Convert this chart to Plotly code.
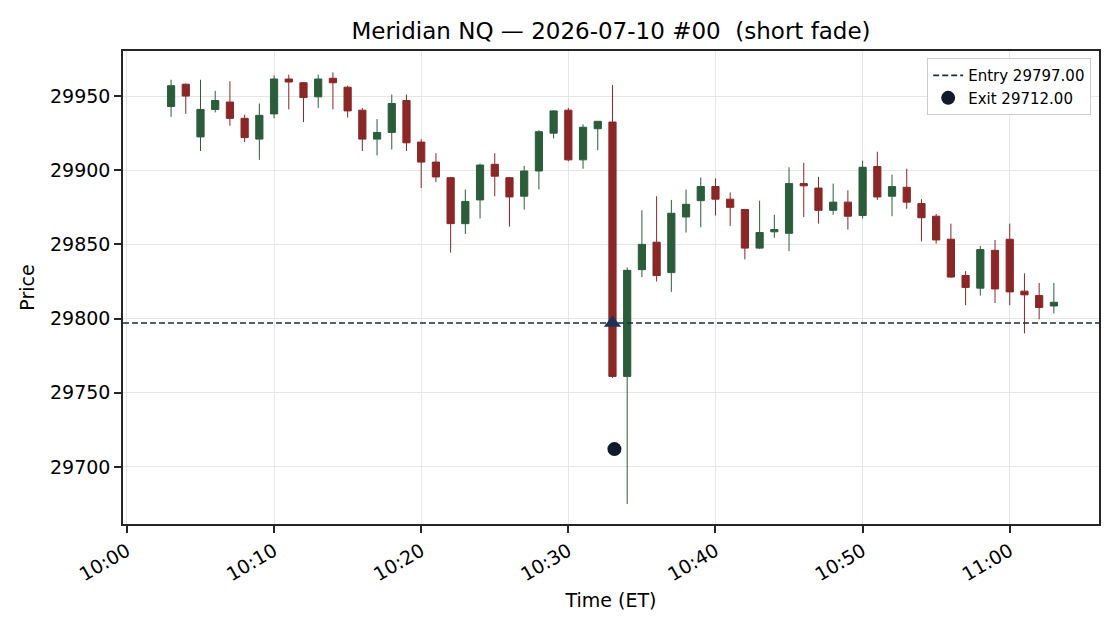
import pandas as pd
import plotly.graph_objects as go

times = pd.date_range("2026-07-10 10:03", periods=61, freq="1min")

opens = [29943, 29958, 29922.5, 29941, 29946, 29935, 29921, 29938, 29961.5, 29959,
         29949.5, 29962, 29956, 29940.5, 29921, 29925.5, 29947, 29919, 29905.5, 29895,
         29864, 29880, 29904, 29895, 29882.5, 29899.5, 29925, 29940.5, 29907, 29928,
         29932.5, 29761, 29833, 29851.5, 29831, 29868.5, 29879.5, 29889, 29880.5, 29873.5,
         29847.5, 29858.5, 29857.5, 29891, 29888, 29873, 29878.5, 29869.5, 29902.5, 29882.5,
         29888.5, 29877.5, 29869, 29853.5, 29829, 29820.5, 29846, 29853.5, 29818.5, 29815.5,
         29808.5]
highs = [29961, 29958.5, 29961, 29953.5, 29960, 29937.5, 29945, 29964, 29964.5, 29959.5,
         29964.5, 29966, 29957, 29942, 29934.5, 29951, 29951, 29921, 29911.5, 29895.5,
         29887, 29904.5, 29911.5, 29895.5, 29903, 29927, 29940.5, 29942, 29931, 29933,
         29957.5, 29834.5, 29873, 29882.5, 29880, 29887, 29895, 29894.5, 29885, 29874,
         29879.5, 29870, 29902, 29905, 29895.5, 29891, 29886.5, 29906.5, 29912.5, 29897,
         29901, 29880.5, 29870.5, 29864, 29832, 29849, 29853, 29864, 29830.5, 29824,
         29824]
lows = [29936, 29938, 29913, 29939, 29930, 29919, 29907, 29935, 29941, 29932.5,
        29942, 29941, 29935.5, 29913, 29910, 29914, 29913, 29888, 29892, 29844.5,
        29857, 29867.5, 29882.5, 29862, 29873.5, 29887, 29921.5, 29906, 29901, 29913.5,
        29760, 29675, 29828, 29825, 29818, 29858, 29861.5, 29869.5, 29862.5, 29840,
        29847, 29854.5, 29845.5, 29868.5, 29864, 29870, 29860, 29867.5, 29880, 29869,
        29874, 29852, 29850.5, 29827.5, 29809, 29815.5, 29810.5, 29809, 29790, 29799.5,
        29803.5]
closes = [29957, 29950, 29941, 29947, 29935, 29922, 29937, 29961.5, 29959.5, 29949,
          29961.5, 29959, 29940, 29921, 29925.5, 29945, 29918.5, 29905.5, 29895.5, 29864,
          29879, 29903.5, 29896, 29882, 29899.5, 29926, 29940, 29907, 29929, 29933,
          29761, 29832.5, 29850, 29829, 29871, 29877, 29889, 29880.5, 29875, 29847.5,
          29858, 29860, 29891, 29889.5, 29873, 29878.5, 29869, 29902, 29882, 29889,
          29878.5, 29868, 29853, 29828, 29821, 29846.5, 29820, 29818, 29816, 29807.5,
          29811]

entry_time = "2026-07-10 10:33:00"
entry_price = 29797.00
exit_time = "2026-07-10 10:33:08"
exit_price = 29712.00

x_start = "2026-07-10 09:59:44"
x_end = "2026-07-10 11:06:04"

yticks = [29700, 29750, 29800, 29850, 29900, 29950]

GREEN = "#2b5d3b"
RED = "#8b2727"
NAVY = "#1b2c46"

fig = go.Figure()

fig.add_trace(go.Candlestick(
    x=times, open=opens, high=highs, low=lows, close=closes,
    increasing=dict(line=dict(color=GREEN, width=1), fillcolor=GREEN),
    decreasing=dict(line=dict(color=RED, width=1), fillcolor=RED),
    showlegend=False, hoverinfo="skip",
))

fig.add_trace(go.Scatter(
    x=[x_start, x_end], y=[entry_price, entry_price], mode="lines",
    line=dict(color=NAVY, width=1.6, dash="6px,3px"),
    name=f"Entry {entry_price:.2f}",
))

fig.add_trace(go.Scatter(
    x=[entry_time], y=[entry_price], mode="markers",
    marker=dict(symbol="triangle-up", size=15, color="#1c3454"),
    showlegend=False,
))

fig.add_trace(go.Scatter(
    x=[exit_time], y=[exit_price], mode="markers",
    marker=dict(symbol="circle", size=14, color="#0f1a2d"),
    name=f"Exit {exit_price:.2f}",
))

font_family = "DejaVu Sans, sans-serif"
AX = "#262626"

fig.update_layout(
    width=1120, height=630,
    margin=dict(l=123, r=21, t=51, b=106),
    paper_bgcolor="white", plot_bgcolor="white",
    font=dict(family=font_family, size=19, color="black"),
    title=dict(text="Meridian NQ — 2026-07-10 #00 \u00a0(short fade)",
               xref="paper", x=0.5, xanchor="center", y=0.951, yanchor="middle",
               font=dict(size=23, family=font_family)),
    legend=dict(x=0.992, y=0.985, xanchor="right", yanchor="top",
                bgcolor="rgba(255,255,255,0.9)", bordercolor="#cccccc", borderwidth=1,
                font=dict(size=15, family=font_family), tracegroupgap=0,
                itemwidth=30),
    showlegend=True,
)

fig.update_xaxes(
    type="date", range=[x_start, x_end],
    rangeslider=dict(visible=False),
    tickformat="%H:%M", dtick=600000, tick0="2026-07-10 10:00",
    tickangle=-30,
    showgrid=True, gridcolor="#e6e6e6", gridwidth=1,
    showline=True, linecolor=AX, linewidth=1.5, mirror=True,
    ticks="outside", ticklen=7, tickwidth=1.5, tickcolor=AX,
    tickfont=dict(size=19),
    title=dict(text="Time (ET)", font=dict(size=19), standoff=10),
    zeroline=False,
)

fig.update_yaxes(
    range=[29661.5, 29980.4],
    tickvals=yticks,
    tickformat="d",
    showgrid=True, gridcolor="#e6e6e6", gridwidth=1,
    showline=True, linecolor=AX, linewidth=1.5, mirror=True,
    ticks="outside", ticklen=7, tickwidth=1.5, tickcolor=AX,
    tickfont=dict(size=19),
    title=dict(text="Price", font=dict(size=19), standoff=10),
    zeroline=False,
)

fig.write_html("out.html")
